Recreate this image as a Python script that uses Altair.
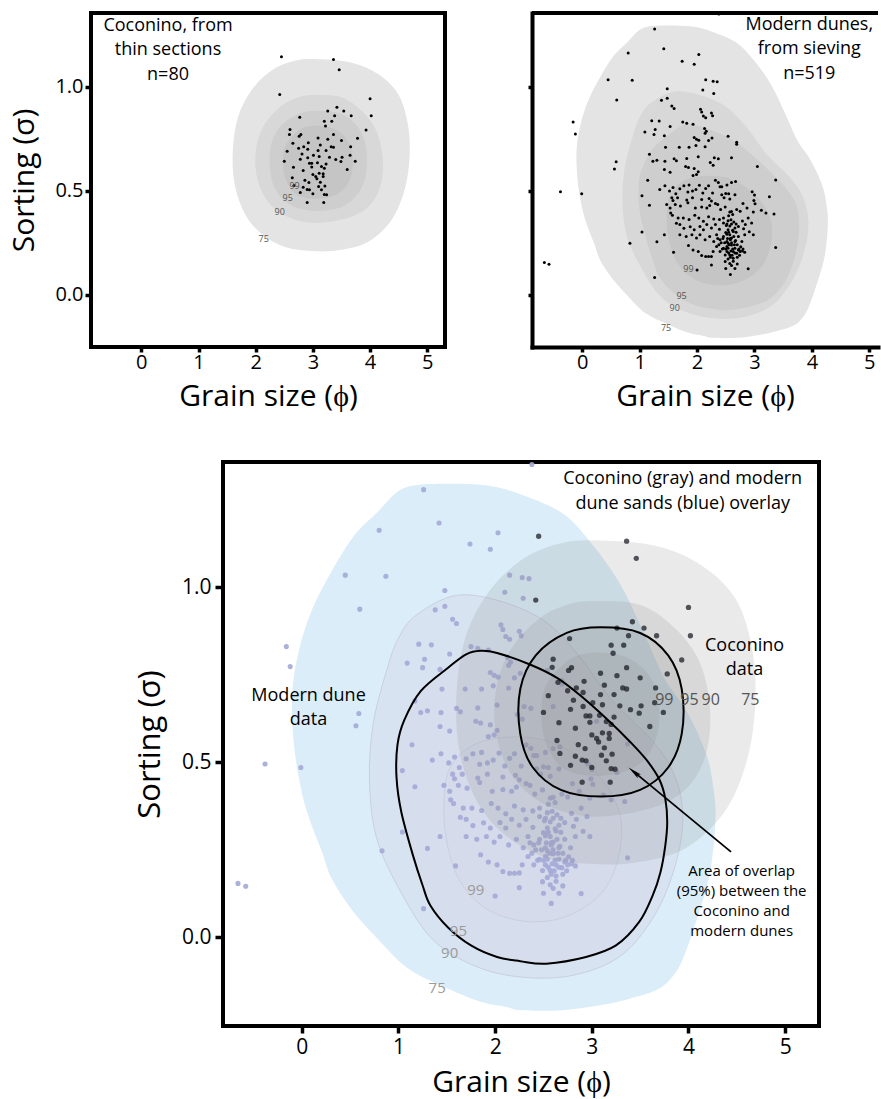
import math
import altair as alt
import pandas as pd

FONT = "Open Sans"

# ---------------- data ----------------
coconino_pts = [
    (2.45, 1.145), (3.36, 1.131), (3.46, 1.082), (2.42, 0.963), (4.00, 0.942), (4.02, 0.861),
    (3.42, 0.901), (3.26, 0.883), (3.54, 0.883), (3.67, 0.861), (3.38, 0.861), (2.77, 0.853),
    (3.20, 0.834), (3.33, 0.834), (3.22, 0.811), (2.60, 0.794), (3.93, 0.792), (2.59, 0.771),
    (2.79, 0.770), (2.76, 0.762), (3.36, 0.770), (3.09, 0.754), (3.26, 0.747), (3.78, 0.752),
    (2.65, 0.728), (2.92, 0.731), (3.50, 0.741), (2.84, 0.712), (2.75, 0.704), (3.13, 0.720),
    (3.32, 0.712), (3.36, 0.709), (3.66, 0.712), (2.55, 0.690), (2.91, 0.699), (3.09, 0.693),
    (3.01, 0.670), (3.23, 0.693), (2.81, 0.677), (3.11, 0.664), (2.78, 0.651), (2.91, 0.659),
    (3.29, 0.661), (3.51, 0.661), (3.65, 0.670), (3.40, 0.650), (2.50, 0.642), (2.94, 0.632),
    (2.98, 0.632), (3.08, 0.634), (3.23, 0.629), (3.49, 0.640), (3.74, 0.642), (2.66, 0.613),
    (2.98, 0.614), (3.15, 0.616), (3.20, 0.608), (3.60, 0.602), (2.83, 0.597), (3.11, 0.584),
    (3.00, 0.578), (3.18, 0.582), (3.05, 0.568), (2.64, 0.562), (3.07, 0.558), (2.86, 0.550),
    (3.18, 0.568), (2.93, 0.539), (3.13, 0.541), (2.67, 0.525), (2.83, 0.517), (3.10, 0.520),
    (3.21, 0.523), (2.90, 0.506), (2.94, 0.504), (3.15, 0.504), (2.78, 0.491), (3.00, 0.485),
    (3.20, 0.482), (2.90, 0.443), (3.19, 0.443), (3.24, 0.480),
]

modern_pts = [
    (1.26, 1.278), (1.42, 1.183), (0.80, 1.162), (2.03, 1.155), (1.74, 1.123), (1.95, 1.108),
    (0.45, 1.034), (0.87, 1.031), (2.15, 1.034), (2.28, 1.027), (2.35, 1.024), (2.10, 0.985),
    (1.48, 0.990), (2.29, 0.968), (0.60, 0.937), (1.38, 0.935), (1.48, 0.945), (1.56, 0.908),
    (1.60, 0.896), (2.06, 0.892), (2.08, 0.879), (2.25, 0.874), (2.11, 0.859), (2.27, 0.861),
    (2.15, 0.851), (-0.16, 0.830), (-0.12, 0.773), (1.21, 0.837), (1.34, 0.835), (1.75, 0.830),
    (1.82, 0.825), (1.93, 0.820), (1.53, 0.809), (1.27, 0.794), (1.09, 0.783), (2.13, 0.799),
    (2.16, 0.786), (2.14, 0.777), (1.25, 0.770), (1.43, 0.765), (2.54, 0.762), (1.95, 0.756),
    (1.99, 0.748), (2.03, 0.743), (2.26, 0.754), (2.20, 0.741), (2.69, 0.733), (2.69, 0.723),
    (2.14, 0.712), (1.98, 0.718), (1.45, 0.709), (1.69, 0.709), (1.86, 0.709), (1.17, 0.675),
    (1.23, 0.642), (1.30, 0.647), (1.44, 0.642), (1.60, 0.654), (1.64, 0.644), (1.82, 0.655),
    (2.02, 0.663), (2.30, 0.659), (2.37, 0.654), (2.60, 0.659), (2.23, 0.636), (2.28, 0.623),
    (3.05, 0.617), (0.59, 0.639), (0.56, 0.604), (1.80, 0.617), (1.85, 0.612), (1.43, 0.602),
    (1.53, 0.589), (1.95, 0.607), (1.99, 0.578), (1.93, 0.573), (2.02, 0.591), (2.32, 0.550),
    (2.37, 0.540), (2.43, 0.519), (2.40, 0.519), (2.52, 0.528), (2.60, 0.539), (2.67, 0.544),
    (1.14, 0.550), (1.35, 0.506), (1.44, 0.524), (1.52, 0.498), (1.58, 0.515), (1.63, 0.485),
    (1.70, 0.510), (1.77, 0.524), (1.84, 0.494), (1.86, 0.528), (1.92, 0.498), (1.98, 0.506),
    (2.04, 0.526), (2.10, 0.489), (2.15, 0.511), (2.20, 0.524), (2.27, 0.489), (2.43, 0.481),
    (2.50, 0.487), (2.55, 0.485), (2.66, 0.481), (-0.01, 0.485), (3.37, 0.552), (2.96, 0.495),
    (3.00, 0.479), (3.26, 0.471), (1.04, 0.476), (1.56, 0.466), (1.58, 0.453), (1.66, 0.466),
    (1.82, 0.455), (1.92, 0.466), (2.08, 0.458), (2.21, 0.463), (2.25, 0.450), (2.32, 0.439),
    (2.47, 0.466), (2.57, 0.460), (2.80, 0.439), (2.99, 0.453), (3.01, 0.437), (1.17, 0.430),
    (1.47, 0.434), (1.53, 0.417), (1.62, 0.434), (1.71, 0.426), (1.84, 0.442), (1.97, 0.417),
    (2.08, 0.422), (2.17, 0.417), (2.22, 0.429), (2.36, 0.434), (2.41, 0.409), (2.49, 0.421),
    (2.57, 0.398), (2.62, 0.385), (2.69, 0.409), (2.75, 0.401), (2.87, 0.417), (2.98, 0.398),
    (3.12, 0.406), (3.20, 0.393), (3.34, 0.388), (1.54, 0.393), (1.57, 0.382), (1.67, 0.369),
    (1.76, 0.369), (1.86, 0.362), (1.96, 0.382), (2.03, 0.369), (2.11, 0.353), (2.20, 0.375),
    (2.29, 0.364), (2.39, 0.361), (2.46, 0.369), (2.54, 0.356), (2.79, 0.354), (2.89, 0.369),
    (2.95, 0.345), (2.81, 0.317), (1.64, 0.343), (1.70, 0.337), (1.77, 0.319), (1.88, 0.327),
    (1.95, 0.312), (2.05, 0.328), (2.11, 0.312), (2.17, 0.337), (2.25, 0.320), (2.32, 0.337),
    (2.39, 0.314), (2.46, 0.345), (2.51, 0.333), (2.54, 0.312), (2.60, 0.340), (2.66, 0.320),
    (2.72, 0.328), (2.84, 0.337), (2.91, 0.303), (2.98, 0.288), (1.04, 0.301), (1.43, 0.288),
    (1.70, 0.288), (1.81, 0.280), (1.91, 0.288), (1.99, 0.272), (2.05, 0.288), (2.14, 0.264),
    (2.22, 0.280), (2.29, 0.256), (2.34, 0.288), (2.40, 0.264), (2.46, 0.280), (2.50, 0.299),
    (2.52, 0.256), (2.57, 0.288), (2.60, 0.272), (2.63, 0.304), (2.66, 0.256), (2.72, 0.280),
    (2.78, 0.256), (2.83, 0.288), (1.30, 0.254), (0.83, 0.247), (3.37, 0.227), (1.59, 0.204),
    (1.85, 0.236), (1.93, 0.215), (2.02, 0.207), (2.08, 0.188), (2.15, 0.183), (2.20, 0.183),
    (2.25, 0.184), (2.28, 0.207), (2.34, 0.231), (2.40, 0.207), (2.46, 0.223), (2.49, 0.191),
    (2.52, 0.207), (2.54, 0.223), (2.57, 0.191), (2.60, 0.239), (2.63, 0.207), (2.66, 0.223),
    (2.69, 0.199), (2.72, 0.215), (2.75, 0.207), (2.79, 0.210), (2.83, 0.204), (2.52, 0.231),
    (2.54, 0.247), (2.58, 0.264), (2.49, 0.159), (2.50, 0.126), (2.58, 0.097), (2.66, 0.126),
    (2.70, 0.147), (2.63, 0.175), (2.54, 0.171), (2.89, 0.125), (2.25, 0.142), (2.00, 0.118),
    (1.26, 0.082), (-0.38, 0.495), (-0.66, 0.154), (-0.58, 0.146), (2.38, 1.350),
    (2.55, 0.300), (2.58, 0.270), (2.60, 0.250), (2.62, 0.220), (2.64, 0.280), (2.56, 0.240),
    (2.59, 0.210), (2.61, 0.190), (2.65, 0.240), (2.67, 0.260), (2.53, 0.270), (2.57, 0.330),
    (2.62, 0.310), (2.68, 0.300), (2.70, 0.240), (2.73, 0.220), (2.76, 0.230), (2.80, 0.220),
    (2.58, 0.180), (2.55, 0.200), (2.63, 0.160), (2.60, 0.140), (2.57, 0.150), (2.66, 0.200),
    (2.70, 0.180), (2.74, 0.190), (2.50, 0.220), (2.48, 0.250), (2.52, 0.290), (2.45, 0.270),
    (2.42, 0.250), (2.44, 0.220), (2.38, 0.240), (2.36, 0.270), (2.64, 0.350), (2.59, 0.360),
    (2.55, 0.380), (2.60, 0.400), (2.52, 0.340), (2.68, 0.340),
]

# density contours (75, 90, 95, 99 %) as closed outlines
coc75 = [(3.09, 1.133), (3.67, 1.117), (4.14, 1.061), (4.49, 0.965), (4.66, 0.821), (4.69, 0.661),
         (4.60, 0.501), (4.37, 0.357), (3.96, 0.253), (3.44, 0.213), (2.97, 0.210), (2.51, 0.229),
         (2.10, 0.293), (1.81, 0.389), (1.63, 0.533), (1.60, 0.693), (1.69, 0.853), (1.92, 0.981),
         (2.27, 1.077), (2.68, 1.125)]
coc90 = [(3.03, 0.960), (3.50, 0.949), (3.85, 0.885), (4.11, 0.789), (4.22, 0.661), (4.19, 0.533),
         (4.02, 0.437), (3.73, 0.381), (3.26, 0.349), (2.86, 0.349), (2.45, 0.389), (2.16, 0.469),
         (2.01, 0.581), (2.01, 0.709), (2.16, 0.821), (2.45, 0.909), (2.74, 0.949)]
coc95 = [(3.09, 0.885), (3.50, 0.869), (3.79, 0.805), (3.93, 0.709), (3.93, 0.581), (3.79, 0.485),
         (3.50, 0.421), (3.09, 0.402), (2.68, 0.421), (2.39, 0.485), (2.26, 0.581), (2.26, 0.709),
         (2.42, 0.805), (2.74, 0.869)]
coc99 = [(3.09, 0.813), (3.38, 0.797), (3.61, 0.741), (3.70, 0.645), (3.64, 0.549), (3.44, 0.485),
         (3.09, 0.461), (2.74, 0.477), (2.56, 0.533), (2.48, 0.613), (2.51, 0.709), (2.68, 0.773),
         (2.86, 0.805)]

mod75 = [(1.16, 1.290), (1.50, 1.295), (1.92, 1.290), (2.26, 1.265), (2.70, 1.210), (3.01, 1.120),
         (3.29, 1.010), (3.52, 0.880), (3.75, 0.740), (3.95, 0.660), (4.10, 0.580), (4.21, 0.500),
         (4.26, 0.420), (4.28, 0.357), (4.26, 0.262), (4.21, 0.167), (4.11, 0.072), (3.97, -0.042),
         (3.87, -0.099), (3.70, -0.146), (3.39, -0.175), (3.08, -0.194), (2.70, -0.208),
         (2.26, -0.208), (2.12, -0.199), (1.85, -0.184), (1.51, -0.146), (1.10, -0.089),
         (0.75, 0.006), (0.51, 0.082), (0.31, 0.167), (0.21, 0.243), (0.09, 0.329), (0.00, 0.414),
         (-0.08, 0.547), (-0.10, 0.694), (-0.03, 0.818), (0.10, 0.932), (0.31, 1.046),
         (0.55, 1.150), (0.79, 1.216), (0.98, 1.270)]
mod90 = [(1.18, 0.919), (1.59, 0.976), (2.05, 0.960), (2.51, 0.903), (2.86, 0.806), (3.21, 0.676),
         (3.62, 0.563), (3.85, 0.466), (3.94, 0.353), (3.88, 0.223), (3.68, 0.078), (3.33, -0.046),
         (2.86, -0.105), (2.34, -0.115), (1.82, -0.085), (1.35, -0.005), (1.00, 0.142),
         (0.77, 0.288), (0.70, 0.450), (0.74, 0.612), (0.89, 0.773), (1.00, 0.854)]
mod95 = [(1.85, 0.818), (2.02, 0.812), (2.36, 0.779), (2.64, 0.741), (2.87, 0.693), (3.18, 0.617),
         (3.39, 0.560), (3.57, 0.505), (3.70, 0.450), (3.76, 0.396), (3.78, 0.329), (3.76, 0.262),
         (3.71, 0.186), (3.63, 0.120), (3.49, 0.044), (3.25, -0.023), (2.94, -0.056),
         (2.53, -0.075), (2.26, -0.068), (2.02, -0.056), (1.75, -0.023), (1.51, 0.029),
         (1.33, 0.091), (1.25, 0.148), (1.15, 0.234), (1.03, 0.357), (0.98, 0.456), (0.99, 0.550),
         (1.06, 0.620), (1.23, 0.703), (1.51, 0.769), (1.70, 0.808)]
mod99 = [(1.76, 0.547), (2.11, 0.571), (2.51, 0.563), (2.86, 0.515), (3.15, 0.434), (3.30, 0.337),
         (3.27, 0.223), (3.10, 0.126), (2.75, 0.061), (2.34, 0.045), (1.93, 0.078), (1.64, 0.159),
         (1.50, 0.272), (1.47, 0.385), (1.53, 0.482)]

levels = ["75", "90", "95", "99"]
tl_lab_x = [2.14, 2.42, 2.56, 2.68]
tl_lab_y = [0.267, 0.398, 0.464, 0.525]
tr_lab_x = [1.46, 1.61, 1.73, 1.85]
tr_lab_y = [-0.162, -0.065, -0.008, 0.123]
bt_mod_lab_x = [1.40, 1.53, 1.62, 1.80]
bt_mod_lab_y = [-0.144, -0.044, 0.018, 0.136]
bt_coc_lab_x = [4.64, 4.23, 4.01, 3.75]
bt_coc_lab_y = [0.677, 0.677, 0.677, 0.677]

tl_note = ["Coconino, from", "thin sections", "n=80"]
tl_note_x, tl_note_y = 0.467, [1.293, 1.176, 1.057]
tr_note = ["Modern dunes,", "from sieving", "n=519"]
tr_note_x, tr_note_y = 3.955, [1.298, 1.182, 1.063]
bt_title = ["Coconino (gray) and modern", "dune sands (blue) overlay"]
bt_title_x, bt_title_y = 3.94, [1.308, 1.237]
bt_coc_note = ["Coconino", "data"]
bt_coc_note_x, bt_coc_note_y = 4.58, [0.831, 0.763]
bt_mod_note = ["Modern dune", "data"]
bt_mod_note_x, bt_mod_note_y = 0.07, [0.690, 0.621]
bt_overlap = ["Area of overlap", "(95%) between the", "Coconino and", "modern dunes"]
bt_overlap_x, bt_overlap_y = 4.55, [0.189, 0.133, 0.076, 0.018]
arrow_tail = (4.44, 0.244)
arrow_tip = (3.38, 0.485)

x_ticks = [0, 1, 2, 3, 4, 5]
y_ticks = [0.0, 0.5, 1.0]
XTITLE = "Grain size (\u03d5)"
YTITLE = "Sorting (\u03c3)"

# ---------------- geometry ----------------
TL_W, TL_H = 354, 334
TR_W, TR_H = 346, 334
BT_W, BT_H = 596, 564
TX = alt.Scale(domain=[-0.88, 5.31], nice=False, zero=False)
TY = alt.Scale(domain=[-0.252, 1.355], nice=False, zero=False)
TRX = alt.Scale(domain=[-0.876, 5.152], nice=False, zero=False)
BX = alt.Scale(domain=[-0.815, 5.35], nice=False, zero=False)
BY = alt.Scale(domain=[-0.253, 1.357], nice=False, zero=False)


def x_axis(lab_size, title_size, tick_size, lab_pad, title_pad, domain=False):
    kw = dict(values=x_ticks, format="d", title=XTITLE, grid=False, domain=domain,
              tickColor="black", tickWidth=3.5, tickSize=tick_size, labelFontSize=lab_size,
              labelColor="black", labelPadding=lab_pad, labelFont=FONT, titleFont=FONT,
              titleFontSize=title_size, titleColor="black", titleFontWeight="normal",
              titlePadding=title_pad)
    if domain:
        kw.update(domainColor="black", domainWidth=4, domainCap="square")
    return alt.Axis(**kw)


def y_axis(lab_size, title_size, tick_size, lab_pad, title_pad, labels=True, domain=False):
    kw = dict(values=y_ticks, format=".1f", grid=False, domain=domain, tickColor="black",
              tickWidth=3.5, tickSize=tick_size, labels=labels, labelFontSize=lab_size,
              labelColor="black", labelPadding=lab_pad, labelFont=FONT, titleFont=FONT,
              titleFontSize=title_size, titleColor="black", titleFontWeight="normal",
              titlePadding=title_pad)
    kw["title"] = YTITLE if labels else None
    if domain:
        kw.update(domainColor="black", domainWidth=4, domainCap="square")
    return alt.Axis(**kw)


def pts_df(pts):
    return pd.DataFrame({"x": [p[0] for p in pts], "y": [p[1] for p in pts],
                         "i": list(range(len(pts)))})


def poly(pts, xs, ys, xa, ya, fill="transparent", opacity=1.0, stroke="transparent", sw=0.0):
    return alt.Chart(pts_df(pts)).mark_line(
        interpolate="cardinal-closed", fill=fill, fillOpacity=opacity, stroke=stroke,
        strokeWidth=sw
    ).encode(x=alt.X("x:Q", scale=xs, axis=xa), y=alt.Y("y:Q", scale=ys, axis=ya),
             order=alt.Order("i:Q"))


def dots(pts, xs, ys, xa, ya, color, size, opacity=1.0):
    return alt.Chart(pts_df(pts)).mark_circle(size=size, color=color, opacity=opacity).encode(
        x=alt.X("x:Q", scale=xs, axis=xa), y=alt.Y("y:Q", scale=ys, axis=ya))


def texts(xv, yv, labels, xs, ys, xa, ya, size, color="black"):
    if not isinstance(xv, list):
        xv = [xv] * len(labels)
    df = pd.DataFrame({"x": xv, "y": yv, "t": labels})
    return alt.Chart(df).mark_text(font=FONT, fontSize=size, color=color, align="center",
                                   baseline="middle").encode(
        x=alt.X("x:Q", scale=xs, axis=xa), y=alt.Y("y:Q", scale=ys, axis=ya), text="t:N")


# ---------------- top-left: Coconino ----------------
ax_tlx = x_axis(20, 30, 5, 0, 9)
ax_tly = y_axis(20, 30, 6, 2, 15)
tl_fills = ["#e4e4e4", "#d8d8d8", "#cecece", "#c5c5c5"]
tl = alt.layer(
    *[poly(p, TX, TY, ax_tlx, ax_tly, fill=c) for p, c in zip([coc75, coc90, coc95, coc99], tl_fills)],
    dots(coconino_pts, TX, TY, ax_tlx, ax_tly, "black", 9),
    texts(tl_lab_x, tl_lab_y, levels, TX, TY, ax_tlx, ax_tly, 9, "#555555"),
    texts(tl_note_x, tl_note_y, tl_note, TX, TY, ax_tlx, ax_tly, 18),
).properties(width=TL_W, height=TL_H, view=alt.ViewBackground(stroke="black", strokeWidth=4))

# ---------------- top-right: modern dunes ----------------
ax_trx = x_axis(20, 30, 5, 0, 9, domain=True)
ax_try = y_axis(20, 30, 4, 2, 0, labels=False, domain=True)
top_border = alt.Chart(pd.DataFrame({"a": [0]})).mark_rule(color="black", strokeWidth=4).encode(
    x=alt.value(0), x2=alt.value(TR_W), y=alt.value(0))
tr = alt.layer(
    *[poly(p, TRX, TY, ax_trx, ax_try, fill=c) for p, c in zip([mod75, mod90, mod95, mod99], tl_fills)],
    dots(modern_pts, TRX, TY, ax_trx, ax_try, "black", 9),
    texts(tr_lab_x, tr_lab_y, levels, TRX, TY, ax_trx, ax_try, 9, "#555555"),
    texts(tr_note_x, tr_note_y, tr_note, TRX, TY, ax_trx, ax_try, 18),
    top_border,
).properties(width=TR_W, height=TR_H, view=alt.ViewBackground(stroke="transparent"))

# ---------------- bottom: overlay ----------------
ax_bx = x_axis(21, 30, 7, 3, 10)
ax_by = y_axis(21, 31, 8, 4, 15)
BXPX = BT_W / (5.35 + 0.815)
BYPX = BT_H / (1.357 + 0.253)
dxp = (arrow_tip[0] - arrow_tail[0]) * BXPX
dyp = -(arrow_tip[1] - arrow_tail[1]) * BYPX
L = math.hypot(dxp, dyp)
head_size = 196
back = math.sqrt(head_size) / 2
head_x = arrow_tip[0] - (dxp / L) * back / BXPX
head_y = arrow_tip[1] + (dyp / L) * back / BYPX
head_angle = math.degrees(math.atan2(dxp, -dyp)) % 360

arrow_line = alt.Chart(pd.DataFrame({"x": [arrow_tail[0]], "y": [arrow_tail[1]],
                                     "x2": [head_x], "y2": [head_y]})).mark_rule(
    color="black", strokeWidth=1.8).encode(
    x=alt.X("x:Q", scale=BX, axis=ax_bx), y=alt.Y("y:Q", scale=BY, axis=ax_by), x2="x2:Q", y2="y2:Q")
arrow_head = alt.Chart(pd.DataFrame({"x": [head_x], "y": [head_y]})).mark_point(
    shape="M0,-1L0.36,1L0,0.62L-0.36,1Z", filled=True, color="black", opacity=1,
    size=head_size, angle=head_angle).encode(
    x=alt.X("x:Q", scale=BX, axis=ax_bx), y=alt.Y("y:Q", scale=BY, axis=ax_by))

bt = alt.layer(
    poly(mod75, BX, BY, ax_bx, ax_by, fill="#daedf8"),
    *[poly(p, BX, BY, ax_bx, ax_by, fill="#d3d6e8", opacity=0.42, stroke="#c9cfe3", sw=1)
      for p in [mod90, mod95, mod99]],
    dots(modern_pts, BX, BY, ax_bx, ax_by, "#a3a9d6", 26, 0.9),
    *[poly(p, BX, BY, ax_bx, ax_by, fill="#8c8c8c", opacity=0.18) for p in [coc75, coc90, coc95, coc99]],
    dots(coconino_pts, BX, BY, ax_bx, ax_by, "#1c1f26", 28, 0.75),
    poly(mod95, BX, BY, ax_bx, ax_by, stroke="black", sw=2),
    poly(coc95, BX, BY, ax_bx, ax_by, stroke="black", sw=2),
    texts(bt_mod_lab_x, bt_mod_lab_y, levels, BX, BY, ax_bx, ax_by, 15, "#9a9a9a"),
    texts(bt_coc_lab_x, bt_coc_lab_y, levels, BX, BY, ax_bx, ax_by, 16, "#555555"),
    texts(bt_title_x, bt_title_y, bt_title, BX, BY, ax_bx, ax_by, 18),
    texts(bt_coc_note_x, bt_coc_note_y, bt_coc_note, BX, BY, ax_bx, ax_by, 18),
    texts(bt_mod_note_x, bt_mod_note_y, bt_mod_note, BX, BY, ax_bx, ax_by, 18),
    texts(bt_overlap_x, bt_overlap_y, bt_overlap, BX, BY, ax_bx, ax_by, 15),
    arrow_line,
    arrow_head,
).properties(width=BT_W, height=BT_H, view=alt.ViewBackground(stroke="black", strokeWidth=4))

spacer = alt.Chart(pd.DataFrame({"a": [0]})).mark_point(opacity=0, size=1).encode(
    x=alt.value(2), y=alt.value(2)).properties(
    width=40, height=4, view=alt.ViewBackground(stroke="transparent"))

top_row = alt.hconcat(tl, tr, spacing=78)
bottom_row = alt.hconcat(spacer, bt, spacing=0)
chart = alt.vconcat(top_row, bottom_row, spacing=46).properties(
    padding={"left": 7, "top": 10, "right": 0, "bottom": 0}, background="white"
).configure(font=FONT)

chart.save("out.html", embed_options={"renderer": "svg", "actions": False})
